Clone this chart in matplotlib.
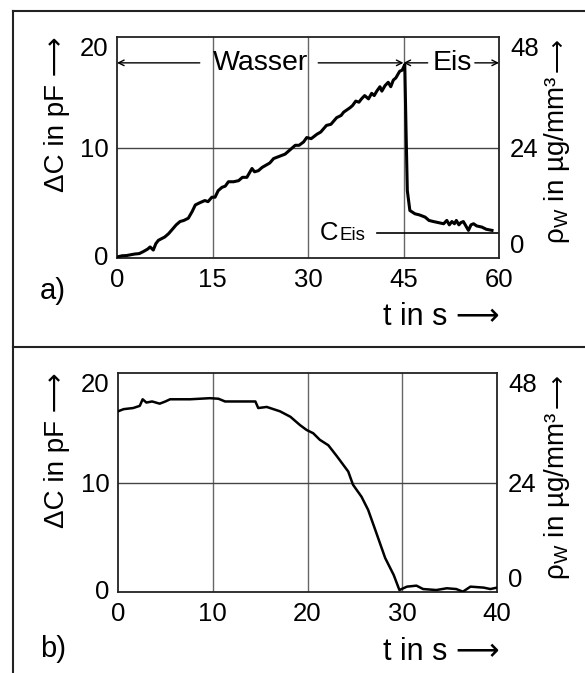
import numpy as np
import matplotlib
matplotlib.use("Agg")
import matplotlib.pyplot as plt
from matplotlib.lines import Line2D

plt.rcParams['font.family'] = ['Liberation Sans', 'DejaVu Sans']
plt.rcParams['mathtext.default'] = 'regular'

# panel a: water film freezing
t_a = [0.0, 0.2, 0.8, 1.5, 2.2, 2.8, 3.5, 4.1, 4.8, 5.2, 5.7, 6.1, 6.5, 7.5, 8.1, 8.7,
       9.3, 9.9, 10.5, 11.2, 11.8, 12.3, 13.0, 13.8, 14.3, 14.9, 15.4, 15.9, 16.5,
       17.0, 17.5, 18.3, 19.1, 19.7, 20.4, 21.2, 21.6, 22.2, 22.8, 23.4, 24.0, 24.6,
       25.5, 26.4, 27.2, 28.0, 28.6, 29.3, 29.8, 30.5, 31.4, 32.0, 32.9, 33.6, 34.5,
       35.2, 35.6, 36.6, 37.0, 37.5, 38.0, 38.4, 38.9, 39.5, 40.0, 40.4, 40.8, 41.3,
       41.6, 42.1, 42.6, 43.0, 43.4, 43.8, 44.4, 44.8, 45.2, 45.4, 45.6, 46.0, 46.8,
       47.5, 48.4, 49.0, 49.7, 50.5, 51.3, 51.8, 52.2, 52.6, 53.0, 53.3, 53.7, 54.0,
       54.4, 54.8, 55.2, 55.6, 56.0, 56.5, 57.3, 58.0, 58.9]
c_a = [0.05, 0.12, 0.2, 0.22, 0.3, 0.36, 0.4, 0.57, 0.8, 1.0, 0.72, 1.3, 1.6, 1.9, 2.2,
       2.6, 3.0, 3.3, 3.4, 3.6, 4.2, 4.8, 5.0, 5.2, 5.1, 5.5, 5.5, 6.1, 6.4,
       6.5, 6.9, 6.9, 7.0, 7.3, 7.3, 8.1, 7.8, 7.9, 8.2, 8.4, 8.6, 9.0,
       9.2, 9.4, 9.8, 10.2, 10.2, 10.5, 10.9, 10.8, 11.2, 11.4, 12.0, 12.1, 12.7,
       12.9, 13.2, 13.6, 13.8, 14.2, 14.1, 14.4, 14.7, 14.4, 14.9, 14.7, 15.1, 15.5,
       15.1, 15.6, 15.9, 15.5, 16.1, 16.3, 16.9, 17.0, 17.5, 11.5, 6.1, 4.3, 4.0,
       3.9, 3.7, 3.4, 3.3, 3.2, 3.1, 3.4, 3.0, 3.3, 3.1, 3.4, 3.0, 3.2,
       3.3, 2.9, 2.5, 3.0, 3.1, 2.9, 2.8, 2.6, 2.5]

# panel b: drying
t_b = [0.0, 0.6, 1.6, 2.3, 2.6, 3.0, 3.6, 4.4, 5.0, 5.5, 7.6, 9.7, 10.6, 11.3, 14.5,
       14.8, 15.7, 17.1, 18.2, 19.2, 19.9, 20.6, 21.3, 22.2, 23.1, 24.3, 24.8, 25.7,
       26.4, 27.1, 28.2, 29.1, 29.7, 30.5, 31.5, 32.2, 33.6, 34.7, 35.7, 36.4, 37.2,
       38.6, 39.3, 40.0]
c_b = [16.5, 16.7, 16.8, 17.0, 17.6, 17.3, 17.4, 17.2, 17.4, 17.6, 17.6, 17.7, 17.65,
       17.4, 17.4, 16.8, 16.9, 16.5, 16.0, 15.25, 14.8, 14.5, 13.9, 13.4, 12.4, 11.0,
       9.8, 8.7, 7.5, 5.8, 3.1, 1.55, 0.18, 0.49, 0.58, 0.27, 0.18, 0.34, 0.27, 0.03,
       0.49, 0.4, 0.27, 0.4]

c_eis = 2.28
xticks_a = [0, 15, 30, 45, 60]
xticks_b = [0, 10, 20, 30, 40]
cticks = [0, 10, 20]
rticks = [0, 24, 48]

W, H = 585, 673
fig = plt.figure(figsize=(W / 100, H / 100), dpi=100)


def fx(px):
    return px / W


def fy(py):
    return 1 - py / H


def setup(ax, xmax, xticks, grid_x):
    ax.set_xlim(0, xmax)
    ax.set_ylim(0, 20)
    ax.set_xticks(xticks)
    ax.set_yticks(cticks)
    for g in grid_x:
        ax.axvline(g, color='#666666', lw=1.0, zorder=1)
    ax.axhline(10, color='#444444', lw=1.0, zorder=1)
    ax.tick_params(length=0, labelsize=18.5)
    ax.tick_params(axis='x', pad=7)
    ax.tick_params(axis='y', pad=6)
    for s in ax.spines.values():
        s.set_linewidth(1.3)
        s.set_color('#222222')
    labs = ax.get_yticklabels()
    labs[0].set_va('center')
    labs[-1].set_va('top')
    r = ax.twinx()
    r.set_ylim(0, 48)
    r.set_yticks(rticks)
    r.tick_params(length=0, labelsize=18.5, pad=8)
    rl = r.get_yticklabels()
    rl[0].set_va('bottom')
    rl[-1].set_va('top')
    for s in r.spines.values():
        s.set_visible(False)
    return r


ax1 = fig.add_axes([fx(117), fy(258), fx(499 - 117), (258 - 37) / H])
setup(ax1, 60, xticks_a, [15, 30, 45])
ax1.plot(t_a, c_a, color='black', lw=2.2, zorder=3)

arr = dict(arrowstyle='->', lw=1.0, color='black', shrinkA=0, shrinkB=0)
ya = 17.66
ax1.annotate('', xy=(0, ya), xytext=(13.0, ya), arrowprops=arr)
ax1.annotate('', xy=(45, ya), xytext=(31.6, ya), arrowprops=arr)
ax1.text(22.6, ya, 'Wasser', ha='center', va='center', fontsize=20.5)
ax1.annotate('', xy=(45, ya), xytext=(48.8, ya), arrowprops=arr)
ax1.text(52.6, ya, 'Eis', ha='center', va='center', fontsize=20.5)
ax1.annotate('', xy=(60, ya), xytext=(56.2, ya), arrowprops=arr)
ax1.plot([40.8, 60], [c_eis, c_eis], color='black', lw=1.2, zorder=2)
ax1.text(31.9, 1.62, 'C', ha='left', va='baseline', fontsize=18.5)
ax1.text(34.9, 1.62, 'Eis', ha='left', va='baseline', fontsize=13.5)

ax2 = fig.add_axes([fx(118), fy(592), fx(497 - 118), (592 - 373) / H])
setup(ax2, 40, xticks_b, [10, 20, 30])
ax2.plot(t_b, c_b, color='black', lw=1.8, zorder=3)

# axis titles and panel letters
for top, xb, letter, yl in [(37, 325, 'a)', 305), (373, 660, 'b)', 663)]:
    fig.text(fx(57), fy(top), 'ΔC in pF ⟶', rotation=90, ha='center', va='top',
             fontsize=20)
    fig.text(fx(558), fy(top + 1), '⟶', rotation=90, ha='center', va='top',
             fontsize=17)
    fig.text(fx(557), fy(top + 39), 'ρ$_{W}$ in µg/mm³', rotation=90, ha='center',
             va='top', fontsize=20)
    fig.text(fx(500), fy(xb), 't in s ⟶', ha='right', va='baseline', fontsize=22)
    fig.text(fx(40), fy(yl), letter, ha='left', va='bottom', fontsize=21)

# frame
lk = dict(color='#222222', lw=1.5, transform=fig.transFigure)
fig.add_artist(Line2D([fx(13), 1], [fy(11), fy(11)], **lk))
fig.add_artist(Line2D([fx(13), 1], [fy(347), fy(347)], **lk))
fig.add_artist(Line2D([fx(13), fx(13)], [fy(11), 0], **lk))

fig.savefig('out.png', dpi=100)
